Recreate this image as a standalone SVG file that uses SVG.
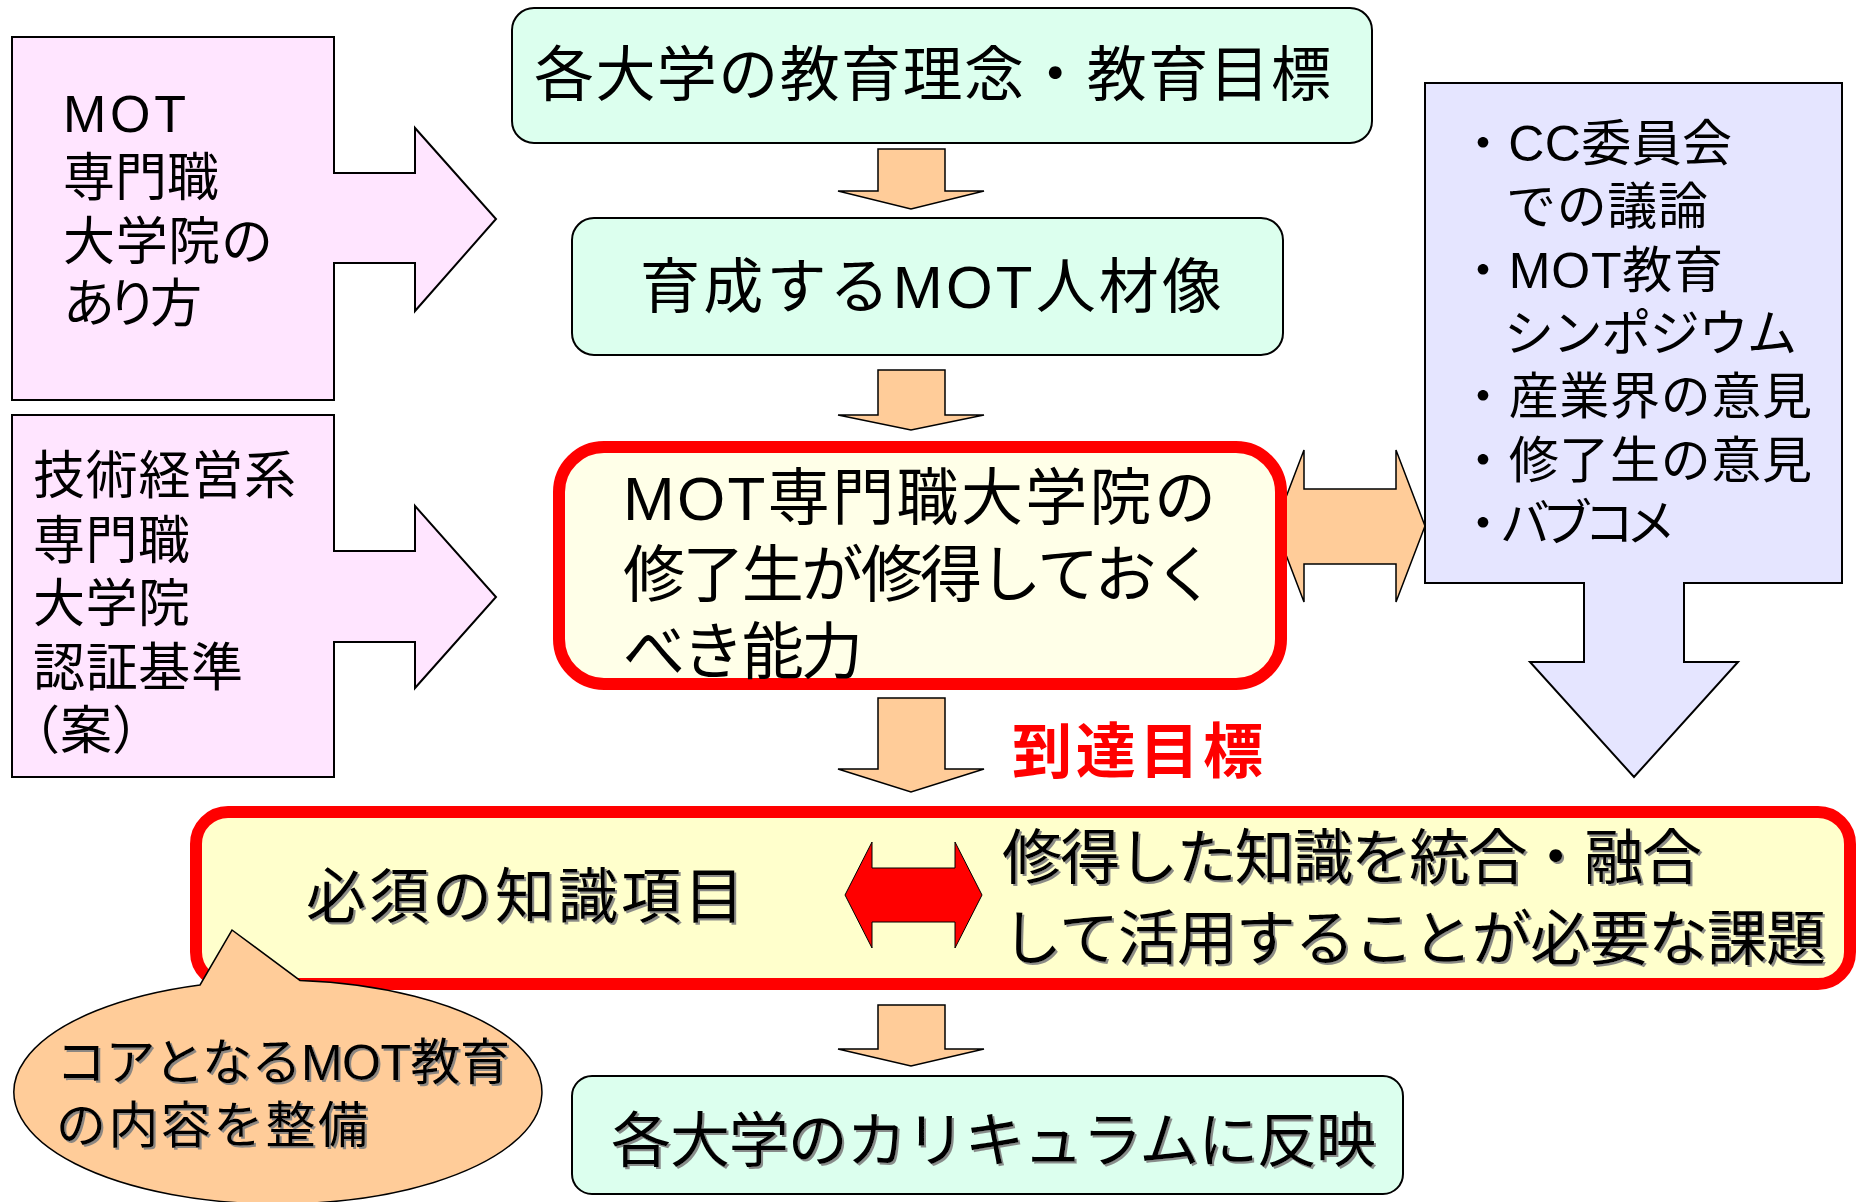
<svg xmlns="http://www.w3.org/2000/svg" width="1860" height="1202" viewBox="0 0 1860 1202">
<defs>
<style>
.t{font-family:"Liberation Sans","Noto Sans CJK JP",sans-serif;fill:#000;}
.pink{fill:#FFE5FF;stroke:#000;stroke-width:2;}
.green{fill:#DCFFEE;stroke:#000;stroke-width:2;}
.org{fill:#FFCC99;stroke:#000;stroke-width:1.5;}
.blue{fill:#E5E5FF;stroke:#000;stroke-width:2;}
.sh{filter:url(#tsh);}
</style>
<filter id="tsh" x="-5%" y="-20%" width="110%" height="140%">
<feDropShadow dx="2" dy="2" stdDeviation="0.5" flood-color="#7f7f7f" flood-opacity="0.9"/>
</filter>
</defs>
<rect width="1860" height="1202" fill="#fff"/>

<g id="connectors">
<polygon class="org" points="878,149 945,149 945,191 984,191 911,209 838,191 878,191"/>
<polygon class="org" points="878,370 945,370 945,415 984,415 911,430 838,415 878,415"/>
<polygon class="org" points="878,698 945,698 945,769 984,769 911,792 838,769 878,769"/>
<polygon class="org" points="878,1005 945,1005 945,1049 984,1049 911,1066 838,1049 878,1049"/>
<polygon class="org" points="1275,526 1304,450 1304,489 1396,489 1396,450 1425,526 1396,602 1396,564 1304,564 1304,602"/>
</g>

<g id="node-mot-arikata">
<polygon class="pink" points="12,37 334,37 334,173 415,173 415,128 496,219 415,311 415,263 334,263 334,400 12,400"/>
<text class="t" font-size="52" x="63" y="132" textLength="123">MOT</text>
<text class="t" font-size="52" x="63" y="196" textLength="156">専門職</text>
<text class="t" font-size="52" x="63" y="260" textLength="210">大学院の</text>
<text class="t" font-size="52" x="63" y="322" textLength="139">あり方</text>
</g>

<g id="node-ninsho">
<polygon class="pink" points="12,415 334,415 334,551 415,551 415,506 496,597 415,688 415,642 334,642 334,777 12,777"/>
<text class="t" font-size="52" x="33" y="494" textLength="263">技術経営系</text>
<text class="t" font-size="52" x="33" y="559" textLength="157">専門職</text>
<text class="t" font-size="52" x="33" y="622" textLength="157">大学院</text>
<text class="t" font-size="52" x="33" y="686" textLength="210">認証基準</text>
<text class="t" font-size="52" x="8" y="749" style="font-family:'Noto Sans CJK JP',sans-serif">（案）</text>
</g>

<g id="node-rinen">
<rect class="green" x="512" y="8" width="860" height="135" rx="22"/>
<text class="t" font-size="60" x="534" y="96" textLength="797">各大学の教育理念・教育目標</text>
</g>

<g id="node-jinzai">
<rect class="green" x="572" y="218" width="711" height="137" rx="22"/>
<text class="t" font-size="60" x="640" y="308" textLength="582">育成するMOT人材像</text>
</g>

<g id="node-noryoku">
<rect x="559" y="447" width="722" height="237" rx="45" fill="#FFFFE8" stroke="#FF0000" stroke-width="12"/>
<text class="t" font-size="62" x="623" y="520" textLength="593">MOT専門職大学院の</text>
<text class="t" font-size="62" x="623" y="597" textLength="593">修了生が修得しておく</text>
<text class="t" font-size="62" x="623" y="674" textLength="240">べき能力</text>
</g>

<g id="node-iken">
<polygon class="blue" points="1425,83 1842,83 1842,583 1684,583 1684,662 1738,662 1634,777 1530,662 1584,662 1584,583 1425,583"/>
<text class="t" font-size="50" x="1458" y="161" textLength="274">・CC委員会</text>
<text class="t" font-size="50" x="1506" y="224" textLength="202">での議論</text>
<text class="t" font-size="50" x="1458" y="288" textLength="265">・MOT教育</text>
<text class="t" font-size="50" x="1504" y="351" textLength="293">シンポジウム</text>
<text class="t" font-size="50" x="1458" y="414" textLength="354">・産業界の意見</text>
<text class="t" font-size="50" x="1458" y="478" textLength="354">・修了生の意見</text>
<text class="t" font-size="50" x="1458" y="541" textLength="218">・バブコメ</text>
</g>

<g id="label-totatsu">
<text class="t" font-size="60" font-weight="bold" x="1012" y="773" textLength="251" style="fill:#FF0000">到達目標</text>
</g>

<g id="node-kadai">
<rect x="196" y="812" width="1654" height="172" rx="32" fill="#FFFFCC" stroke="#FF0000" stroke-width="12"/>
<text class="t sh" font-size="60" x="306" y="918" textLength="438">必須の知識項目</text>
<polygon points="845,895 872,842 872,868 955,868 955,842 982,895 955,948 955,922 872,922 872,948" fill="#FF0000" stroke="#000" stroke-width="1"/>
<text class="t sh" font-size="60" x="1002" y="879" textLength="700">修得した知識を統合・融合</text>
<text class="t sh" font-size="60" x="1002" y="960" textLength="824">して活用することが必要な課題</text>
</g>

<g id="node-core">
<path class="org" d="M200,985 L232,930 L300,980.4 A264,112 0 1 1 200,985 Z"/>
<text class="t sh" font-size="50" x="56" y="1080" textLength="454">コアとなるMOT教育</text>
<text class="t sh" font-size="50" x="56" y="1143" textLength="312">の内容を整備</text>
</g>

<g id="node-curriculum">
<rect class="green" x="572" y="1076" width="831" height="118" rx="20"/>
<text class="t sh" font-size="60" x="611" y="1162" textLength="765">各大学のカリキュラムに反映</text>
</g>
</svg>
